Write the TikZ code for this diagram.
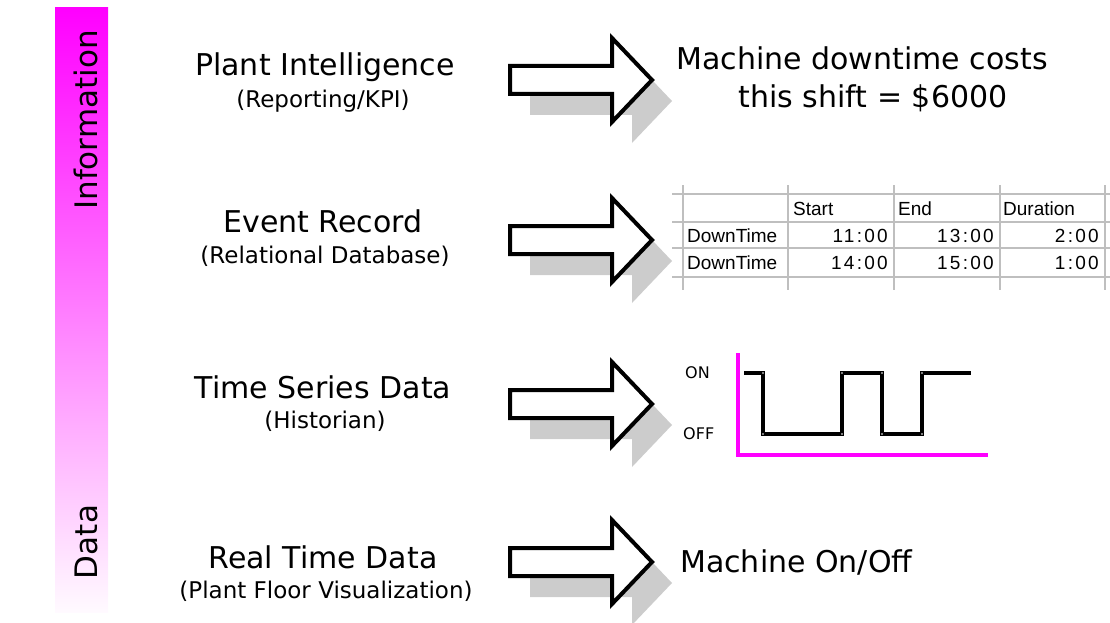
\documentclass[tikz,border=0pt]{standalone}
\usepackage{fontspec}
\setmainfont{DejaVu Sans}
\newfontfamily\cellfont{Liberation Sans}
\newfontfamily\numfont[LetterSpace=12]{Liberation Sans}
\usetikzlibrary{calc}
\definecolor{axismag}{RGB}{255,0,255}

\begin{document}
\begin{tikzpicture}[x=1pt,y=-1pt,
	head/.style={font=\fontsize{30}{36}\selectfont,anchor=base,inner sep=0pt},
	sub/.style={font=\fontsize{23}{27}\selectfont,anchor=base,inner sep=0pt},
	side/.style={font=\fontsize{31}{36}\selectfont,rotate=90,inner sep=0pt},
	cell/.style={font=\cellfont\fontsize{19}{22}\selectfont,inner sep=0pt,anchor=base west},
	num/.style={font=\numfont\fontsize{19}{22}\selectfont,inner sep=0pt,anchor=base east},
	lvl/.style={font=\fontsize{16}{19}\selectfont,inner sep=0pt,anchor=west},
	bigarrow/.style={draw=black,fill=white,line width=4pt,miter limit=10},
	shadow/.style={fill=black!20},
	grid/.style={draw=black!25,line width=1.5pt},
	]
	\useasboundingbox (0,0) rectangle (1110,623);
	% scale from data to information
	\shade[top color=axismag,bottom color=axismag!2] (55,8) rectangle (108,612);
	\node[side] (info) at (86,120) {Information};
	\node[side] (data) at (86,542) {Data};
	% layer names
	\node[head] (plant) at (325,76) {Plant Intelligence};
	\node[sub] (kpi) at (323,107) {(Reporting/KPI)};
	\node[head] (event) at (323,232) {Event Record};
	\node[sub] (rdb) at (325,263) {(Relational Database)};
	\node[head] (tsd) at (323,398) {Time Series Data};
	\node[sub] (hist) at (325,428) {(Historian)};
	\node[head] (rtd) at (323,568) {Real Time Data};
	\node[sub] (pfv) at (326,598) {(Plant Floor Visualization)};
	% block arrows with drop shadow
	\foreach \y in {80,240,404,562}{
		\fill[shadow,shift={(20,21)}] (510,\y-14)--(612,\y-14)--(612,\y-42)--(652,\y)--(612,\y+42)--(612,\y+14)--(510,\y+14)--cycle;
		\draw[bigarrow] (510,\y-14)--(612,\y-14)--(612,\y-42)--(652,\y)--(612,\y+42)--(612,\y+14)--(510,\y+14)--cycle;
	};
	% what each layer gives
	\node[head] (cost1) at (862,70) {Machine downtime costs};
	\node[head] (cost2) at (873,107) {this shift = \$6000};
	\node[head,anchor=base west] (onoff) at (680,572) {Machine On/Off};
	% event table
	\foreach \x in {683,788,894,1000,1105}
		\draw[grid] (\x,185)--(\x,290);
	\foreach \y in {194,222,248,277}
		\draw[grid] (672,\y)--(1110,\y);
	\node[cell] (hstart) at (793,215) {Start};
	\node[cell] (hend) at (898,215) {End};
	\node[cell] (hdur) at (1003,215) {Duration};
	\foreach \r/\y/\a/\b/\c in {1/242/11:00/13:00/2:00,2/269/14:00/15:00/1:00}{
		\node[cell] (ev\r) at (687,\y) {DownTime};
		\node[num] (st\r) at (888,\y) {\a};
		\node[num] (en\r) at (994,\y) {\b};
		\node[num] (du\r) at (1099,\y) {\c};
	};
	% on/off trend
	\node[lvl] (on) at (685,373) {ON};
	\node[lvl] (off) at (683,434) {OFF};
	\draw[axismag,line width=4pt] (738,353)--(738,455)--(988,455);
	\draw[line width=3.5pt] (744,373)--(763,373)--(763,434)--(842,434)--(842,373)--(882,373)--(882,434)--(922,434)--(922,373)--(971,373);
	\foreach \x/\y in {763/373,763/434,842/434,842/373,882/373,882/434,922/434,922/373}
		\fill[white] (\x,\y) circle (0.9);
\end{tikzpicture}
\end{document}
